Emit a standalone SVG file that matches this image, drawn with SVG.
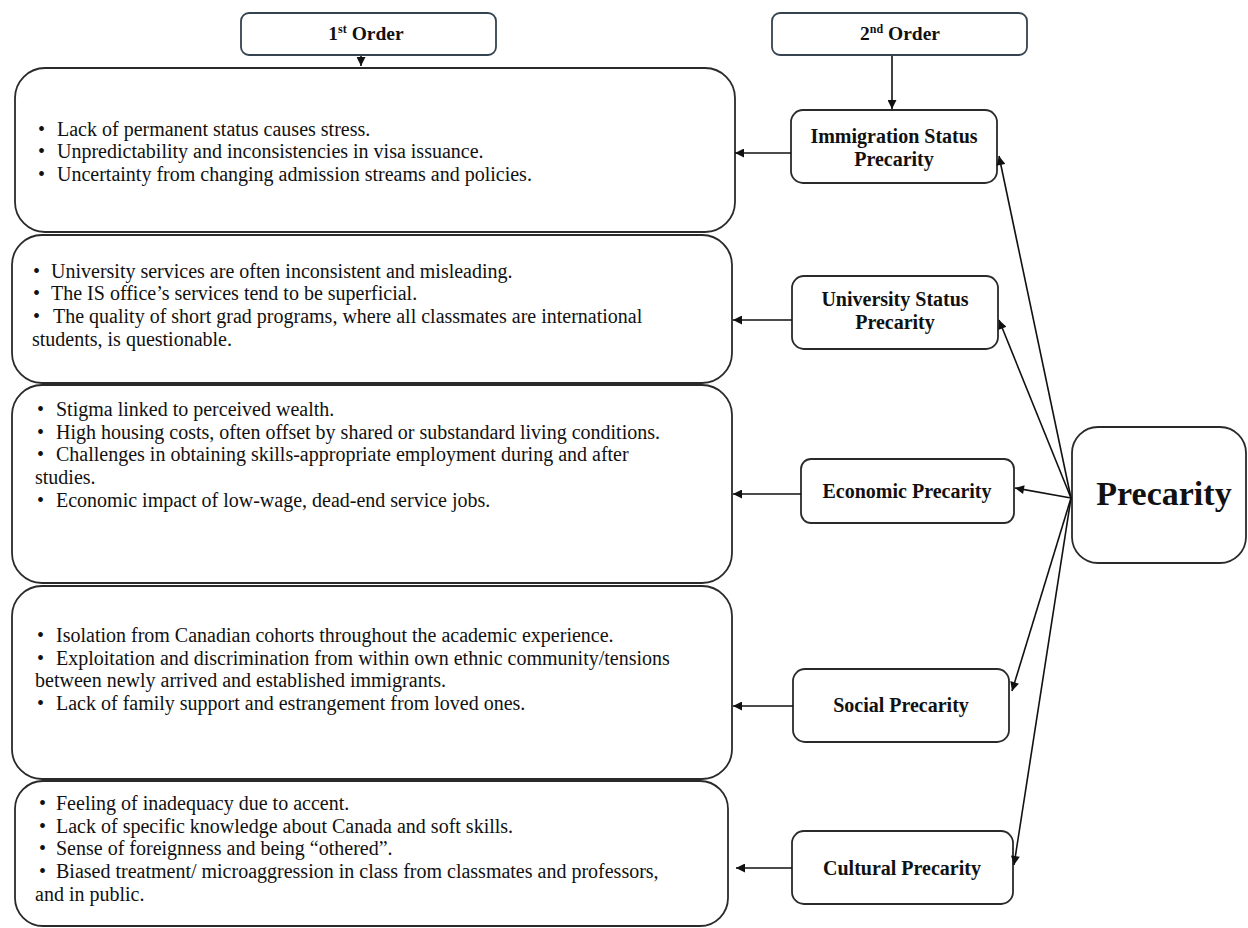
<svg xmlns="http://www.w3.org/2000/svg" width="1248" height="928" viewBox="0 0 1248 928">
<style>
.bg{fill:#ffffff}
.hdr{fill:#ffffff;stroke:#34434f;stroke-width:1.8}
.big{fill:#ffffff;stroke:#2a2a2a;stroke-width:1.8}
.cat{fill:#ffffff;stroke:#2a2a2a;stroke-width:1.8}
.t{font-family:"Liberation Serif","Times New Roman",serif;font-size:20px;fill:#111}
.b{font-family:"Liberation Serif","Times New Roman",serif;font-size:20px;font-weight:bold;fill:#111;text-anchor:middle}
.h{font-family:"Liberation Serif","Times New Roman",serif;font-size:19.5px;font-weight:bold;fill:#111;text-anchor:middle}
.sup{font-size:12px}
.big-t{font-family:"Liberation Serif","Times New Roman",serif;font-size:34px;font-weight:bold;fill:#111;text-anchor:middle}
.c{stroke:#111;stroke-width:1.6;fill:none;marker-end:url(#ah)}
</style>
<defs>
<marker id="ah" viewBox="0 0 10 10" refX="10" refY="5" markerWidth="11" markerHeight="9" markerUnits="userSpaceOnUse" orient="auto">
<path d="M0,0 L10,5 L0,10 z" fill="#111"/>
</marker>
</defs>
<rect class="bg" x="0" y="0" width="1248" height="928"/>

<g id="header1">
<rect class="hdr" x="241" y="13" width="255" height="42" rx="8"/>
<text class="h" x="366" y="40">1<tspan class="sup" dy="-7">st</tspan><tspan dy="7"> Order</tspan></text>
</g>
<g id="header2">
<rect class="hdr" x="772" y="13" width="255" height="42" rx="8"/>
<text class="h" x="900" y="40">2<tspan class="sup" dy="-7">nd</tspan><tspan dy="7"> Order</tspan></text>
</g>

<g id="box-immigration-items">
<rect class="big" x="15" y="68" width="720" height="164" rx="30"/>
<text class="t"><tspan x="38" y="136">•</tspan><tspan x="57" y="136">Lack of permanent status causes stress.</tspan></text>
<text class="t"><tspan x="38" y="158">•</tspan><tspan x="57" y="158">Unpredictability and inconsistencies in visa issuance.</tspan></text>
<text class="t"><tspan x="38" y="181">•</tspan><tspan x="57" y="181">Uncertainty from changing admission streams and policies.</tspan></text>
</g>

<g id="box-university-items">
<rect class="big" x="12" y="235" width="720" height="148" rx="30"/>
<text class="t"><tspan x="33" y="278">•</tspan><tspan x="51" y="278">University services are often inconsistent and misleading.</tspan></text>
<text class="t"><tspan x="33" y="300">•</tspan><tspan x="51" y="300">The IS office’s services tend to be superficial.</tspan></text>
<text class="t"><tspan x="33" y="323">•</tspan><tspan x="53" y="323">The quality of short grad programs, where all classmates are international</tspan></text>
<text class="t" x="32" y="346">students, is questionable.</text>
</g>

<g id="box-economic-items">
<rect class="big" x="12" y="385" width="720" height="198" rx="30"/>
<text class="t"><tspan x="37" y="416">•</tspan><tspan x="56" y="416">Stigma linked to perceived wealth.</tspan></text>
<text class="t"><tspan x="37" y="439">•</tspan><tspan x="56" y="439">High housing costs, often offset by shared or substandard living conditions.</tspan></text>
<text class="t"><tspan x="37" y="461">•</tspan><tspan x="56" y="461">Challenges in obtaining skills-appropriate employment during and after</tspan></text>
<text class="t" x="35" y="484">studies.</text>
<text class="t"><tspan x="37" y="507">•</tspan><tspan x="56" y="507">Economic impact of low-wage, dead-end service jobs.</tspan></text>
</g>

<g id="box-social-items">
<rect class="big" x="12" y="586" width="720" height="193" rx="30"/>
<text class="t"><tspan x="37" y="642">•</tspan><tspan x="56" y="642">Isolation from Canadian cohorts throughout the academic experience.</tspan></text>
<text class="t"><tspan x="37" y="665">•</tspan><tspan x="56" y="665">Exploitation and discrimination from within own ethnic community/tensions</tspan></text>
<text class="t" x="35" y="687">between newly arrived and established immigrants.</text>
<text class="t"><tspan x="37" y="710">•</tspan><tspan x="56" y="710">Lack of family support and estrangement from loved ones.</tspan></text>
</g>

<g id="box-cultural-items">
<rect class="big" x="15" y="781" width="713" height="145" rx="28"/>
<text class="t"><tspan x="39" y="810">•</tspan><tspan x="56" y="810">Feeling of inadequacy due to accent.</tspan></text>
<text class="t"><tspan x="39" y="833">•</tspan><tspan x="56" y="833">Lack of specific knowledge about Canada and soft skills.</tspan></text>
<text class="t"><tspan x="39" y="855">•</tspan><tspan x="56" y="855">Sense of foreignness and being “othered”.</tspan></text>
<text class="t"><tspan x="39" y="878">•</tspan><tspan x="56" y="878">Biased treatment/ microaggression in class from classmates and professors,</tspan></text>
<text class="t" x="35" y="901">and in public.</text>
</g>

<g id="immigration-status">
<rect class="cat" x="791" y="110" width="206" height="73" rx="12"/>
<text class="b" x="894" y="143">Immigration Status</text>
<text class="b" x="894" y="166">Precarity</text>
</g>
<g id="university-status">
<rect class="cat" x="792" y="276" width="206" height="73" rx="12"/>
<text class="b" x="895" y="306">University Status</text>
<text class="b" x="895" y="329">Precarity</text>
</g>
<g id="economic">
<rect class="cat" x="801" y="459" width="213" height="64" rx="10"/>
<text class="b" x="907" y="498">Economic Precarity</text>
</g>
<g id="social">
<rect class="cat" x="793" y="669" width="216" height="73" rx="12"/>
<text class="b" x="901" y="712">Social Precarity</text>
</g>
<g id="cultural">
<rect class="cat" x="792" y="831" width="221" height="73" rx="12"/>
<text class="b" x="902" y="875">Cultural Precarity</text>
</g>
<g id="precarity">
<rect class="cat" x="1072" y="427" width="174" height="136" rx="26"/>
<text class="big-t" x="1164" y="505">Precarity</text>
</g>

<g id="connectors">
<line class="c" x1="361" y1="56" x2="361" y2="66"/>
<line class="c" x1="892" y1="56" x2="892" y2="109"/>
<line class="c" x1="791" y1="153" x2="735" y2="153"/>
<line class="c" x1="792" y1="320" x2="733" y2="320"/>
<line class="c" x1="801" y1="494" x2="733" y2="494"/>
<line class="c" x1="793" y1="706" x2="733" y2="706"/>
<line class="c" x1="792" y1="868" x2="736" y2="868"/>
<line class="c" x1="1071" y1="498" x2="999" y2="156"/>
<line class="c" x1="1071" y1="498" x2="999" y2="320"/>
<line class="c" x1="1071" y1="498" x2="1015" y2="488"/>
<line class="c" x1="1071" y1="498" x2="1012" y2="691"/>
<line class="c" x1="1071" y1="498" x2="1014" y2="865"/>
</g>
</svg>
